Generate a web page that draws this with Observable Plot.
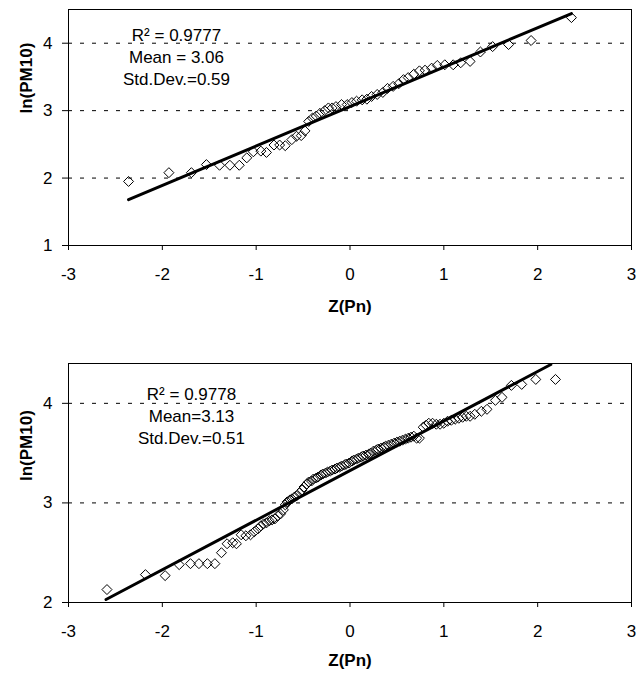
<!DOCTYPE html>
<html><head><meta charset="utf-8">
<script src="https://cdn.jsdelivr.net/npm/d3@7"></script>
<script src="https://cdn.jsdelivr.net/npm/@observablehq/plot@0.6"></script>
<style>
body{margin:0;background:#fff;font-family:"Liberation Sans",Arial,sans-serif;}
#chart{width:638px;}
svg{display:block;}
</style></head><body><div id="chart"></div>
<script>
const xTicks = [-3, -2, -1, 0, 1, 2, 3];
const topYTicks = [1, 2, 3, 4];
const bottomYTicks = [2, 3, 4];
const topGrid = [2, 3, 4];
const bottomGrid = [3, 4];
const xTitle = "Z(Pn)";
const yTitle = "ln(PM10)";

const topZ = [-2.36,-1.93,-1.69,-1.53,-1.39,-1.28,-1.18,-1.10,-1.03,-0.95,-0.89,-0.81,-0.75,-0.69,-0.62,-0.57,-0.52,-0.48,-0.44,-0.40,-0.36,-0.32,-0.27,-0.23,-0.19,-0.15,-0.09,-0.03,0.02,0.07,0.13,0.18,0.23,0.29,0.35,0.40,0.46,0.52,0.57,0.62,0.68,0.74,0.80,0.87,0.93,1.01,1.10,1.18,1.28,1.39,1.52,1.69,1.93,2.36];
const topLn = [1.95,2.08,2.08,2.20,2.19,2.19,2.19,2.30,2.39,2.40,2.38,2.49,2.49,2.48,2.57,2.62,2.63,2.70,2.84,2.89,2.92,2.96,3.00,3.04,3.04,3.06,3.09,3.09,3.12,3.14,3.16,3.17,3.21,3.24,3.27,3.33,3.36,3.40,3.46,3.49,3.54,3.59,3.60,3.63,3.67,3.68,3.68,3.71,3.73,3.87,3.95,3.98,4.04,4.38];
const topFitZ = [-2.36, 2.36];
const topFitLn = [1.68, 4.44];
const topStats = ["R² = 0.9777", "Mean = 3.06", "Std.Dev.=0.59"];

const bottomZ = [-2.59,-2.18,-1.97,-1.82,-1.70,-1.61,-1.52,-1.44,-1.37,-1.31,-1.25,-1.21,-1.16,-1.11,-1.06,-1.02,-0.98,-0.95,-0.92,-0.89,-0.86,-0.83,-0.80,-0.77,-0.74,-0.71,-0.69,-0.67,-0.64,-0.62,-0.59,-0.57,-0.54,-0.51,-0.49,-0.46,-0.44,-0.41,-0.39,-0.36,-0.34,-0.31,-0.29,-0.26,-0.24,-0.21,-0.19,-0.16,-0.14,-0.11,-0.09,-0.06,-0.04,-0.01,0.02,0.04,0.07,0.09,0.12,0.14,0.17,0.20,0.22,0.25,0.28,0.30,0.33,0.36,0.38,0.41,0.44,0.47,0.50,0.53,0.56,0.59,0.62,0.65,0.68,0.71,0.74,0.78,0.81,0.84,0.88,0.92,0.96,1.00,1.04,1.08,1.12,1.16,1.20,1.24,1.28,1.33,1.40,1.46,1.55,1.62,1.72,1.83,1.98,2.19];
const bottomLn = [2.13,2.28,2.27,2.38,2.39,2.39,2.39,2.39,2.50,2.59,2.60,2.59,2.68,2.67,2.68,2.71,2.74,2.77,2.79,2.80,2.82,2.83,2.84,2.87,2.89,2.93,2.98,3.01,3.03,3.04,3.06,3.07,3.10,3.13,3.16,3.19,3.21,3.22,3.24,3.25,3.26,3.28,3.29,3.30,3.31,3.32,3.33,3.34,3.35,3.36,3.37,3.38,3.39,3.40,3.42,3.43,3.44,3.45,3.46,3.47,3.48,3.49,3.50,3.52,3.53,3.54,3.55,3.56,3.57,3.58,3.59,3.60,3.61,3.62,3.63,3.64,3.65,3.66,3.67,3.65,3.65,3.76,3.78,3.80,3.80,3.79,3.79,3.80,3.82,3.83,3.84,3.85,3.86,3.87,3.87,3.89,3.92,3.94,4.03,4.06,4.18,4.19,4.24,4.24];
const bottomFitZ = [-2.60, 2.14];
const bottomFitLn = [2.03, 4.39];
const bottomStats = ["R² = 0.9778", "Mean=3.13", "Std.Dev.=0.51"];

const FONT = '"Liberation Sans", Arial, Helvetica, sans-serif';
const fmt = d => (d < 0 ? "-" + Math.abs(d) : String(d));

function panel(o) {
  const pts = o.z.map((d, i) => ({z: d, ln: o.ln[i]}));
  const fit = o.fitZ.map((d, i) => ({z: d, ln: o.fitLn[i]}));
  return Plot.plot({
    width: 638, height: o.height,
    marginLeft: 68, marginRight: 7, marginTop: o.marginTop, marginBottom: o.marginBottom,
    style: {fontFamily: FONT, fontSize: "17px", color: "#000", background: "#fff", overflow: "visible"},
    x: {domain: [-3, 3]},
    y: {domain: o.yDomain},
    marks: [
      Plot.ruleY(o.grid, {stroke: "#000", strokeDasharray: "4,8", strokeWidth: 1}),
      Plot.frame({stroke: "#000", strokeWidth: 1}),
      Plot.axisX(xTicks, {tickSize: 5, tickPadding: 17, label: null, fontSize: 17, tickFormat: fmt}),
      Plot.axisY(o.yTicks, {tickSize: 6, tickPadding: 10, label: null, fontSize: 17, tickFormat: fmt}),
      Plot.line(fit, {x: "z", y: "ln", stroke: "#000", strokeWidth: 3}),
      Plot.dot(pts, {x: "z", y: "ln", symbol: "diamond2", r: 4.5, stroke: "#000", fill: "none", strokeWidth: 1}),
      Plot.text([o.stats.join("\n")], {frameAnchor: "top-left", dx: o.statsDx, dy: o.statsDy, lineAnchor: "top", lineHeight: 1.3, textAnchor: "middle", fontSize: 17}),
      Plot.text([xTitle], {frameAnchor: "bottom", dy: o.xTitleDy, fontWeight: "bold", fontSize: 17}),
      Plot.text([yTitle], {frameAnchor: "left", rotate: -90, dx: -42, dy: o.yTitleDy, fontWeight: "bold", fontSize: 17})
    ]
  });
}

const chart = document.getElementById("chart");
chart.appendChild(panel({
  z: topZ, ln: topLn, fitZ: topFitZ, fitLn: topFitLn, yDomain: [1, 4.5], yTicks: topYTicks, grid: topGrid,
  stats: topStats, height: 330, marginTop: 9, marginBottom: 85,
  statsDx: 108, statsDy: 15.5, xTitleDy: 66, yTitleDy: -14
}));
chart.appendChild(panel({
  z: bottomZ, ln: bottomLn, fitZ: bottomFitZ, fitLn: bottomFitLn, yDomain: [2, 4.4], yTicks: bottomYTicks, grid: bottomGrid,
  stats: bottomStats, height: 345, marginTop: 33, marginBottom: 73,
  statsDx: 123, statsDy: 21, xTitleDy: 63, yTitleDy: -2
}));
</script></body></html>
